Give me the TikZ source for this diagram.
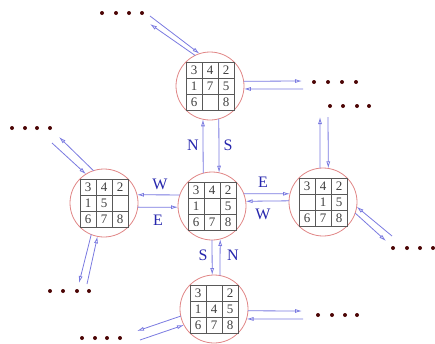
\documentclass[tikz,border=0pt]{standalone}
\usepackage{fontspec}
\setmainfont{Liberation Serif}
\usetikzlibrary{arrows.meta,calc}
\definecolor{circ}{rgb}{0.88,0.52,0.52}
\definecolor{arr}{rgb}{0.48,0.48,0.88}
\definecolor{lab}{rgb}{0.15,0.15,0.68}
\definecolor{dotc}{rgb}{0.30,0.02,0.02}
\tikzset{
  st/.style={circle,draw=circ,line width=0.8pt,minimum size=68pt,inner sep=0pt,outer sep=0pt},
  gl/.style={draw=black!65,line width=0.5pt},
  num/.style={font=\fontsize{13}{13}\selectfont,text=black!75,inner sep=0pt},
  mv/.style={draw=arr,line width=0.8pt,-{Latex[open,length=7pt,width=4pt]}},
  lb/.style={font=\fontsize{16}{16}\selectfont,text=lab,inner sep=0pt},
  dt/.style={fill=dotc}
}
\newcommand{\pz}[4]{%
  \node[st] (#1) at (#2,#3) {};
  \begin{scope}[shift={(#2,#3)}]
    \draw[gl] (-24,-24) rectangle (24,24) (-8,-24)--(-8,24) (8,-24)--(8,24) (-24,-8)--(24,-8) (-24,8)--(24,8);
    \foreach \t [count=\i from 0] in {#4} {
      \pgfmathsetmacro\cx{mod(\i,3)*16-16}
      \pgfmathsetmacro\cy{int(\i/3)*16-16}
      \node[num] at (\cx,\cy) {\t};
    }
  \end{scope}}
\newcommand{\dotrow}[5]{%
  \foreach \xx in {#1,#2,#3,#4} {\fill[dt] (\xx,#5) circle (2);}}
\begin{document}
\begin{tikzpicture}[x=1pt,y=-1pt]
\useasboundingbox (0,0) rectangle (435,343);
\pz{T}{210}{86}{3,4,2,1,7,5,6,,8}
\pz{L}{104}{203}{3,4,2,1,5,,6,7,8}
\pz{C}{212}{206}{3,4,2,1,,5,6,7,8}
\pz{R}{323}{202}{3,4,2,,1,5,6,7,8}
\pz{B}{214}{309}{3,,2,1,4,5,6,7,8}
% central moves
\draw[mv] (C.105) -- (T.258);
\draw[mv] (T.285) -- (C.78);
\draw[mv] (C.161) -- (L.14);
\draw[mv] (L.353) -- (C.182);
\draw[mv] (C.21) -- (R.166);
\draw[mv] (R.178) -- (C.8);
\draw[mv] (C.270) -- (B.93);
\draw[mv] (B.80) -- (C.284);
\node[lb] (nN1) at (193,145) {N};
\node[lb] (nS1) at (228,145) {S};
\node[lb] (nW1) at (160,184) {W};
\node[lb] (nE1) at (158,220) {E};
\node[lb] (nE2) at (263,182) {E};
\node[lb] (nW2) at (263,214) {W};
\node[lb] (nS2) at (203,255) {S};
\node[lb] (nN2) at (233,255) {N};
% free ends
\coordinate (a1) at (150,16);
\coordinate (a2) at (150,24);
\coordinate (b1) at (302,81);
\coordinate (b2) at (303,89);
\coordinate (c1) at (320,117);
\coordinate (c2) at (328,117);
\coordinate (d1) at (392,236);
\coordinate (d2) at (386,241);
\coordinate (e1) at (52,143);
\coordinate (e2) at (59,137);
\coordinate (f1) at (79,283);
\coordinate (f2) at (87,284);
\coordinate (g1) at (302,311);
\coordinate (g2) at (303,319);
\coordinate (h1) at (137,331);
\coordinate (h2) at (140,340);
% outer moves
\draw[mv] (a1) -- (T.108);
\draw[mv] (T.116) -- (a2);
\draw[mv] (T.8) -- (b1);
\draw[mv] (b2) -- (T.355);
\draw[mv] (R.95) -- (c1);
\draw[mv] (c2) -- (R.81);
\draw[mv] (d1) -- (R.352);
\draw[mv] (R.341) -- (d2);
\draw[mv] (e1) -- (L.122);
\draw[mv] (L.108) -- (e2);
\draw[mv] (L.248) -- (f1);
\draw[mv] (f2) -- (L.259);
\draw[mv] (B.357) -- (g1);
\draw[mv] (g2) -- (B.343);
\draw[mv] (B.192) -- (h1);
\draw[mv] (h2) -- (B.208);
% dots
\dotrow{102}{116}{129}{142}{13}
\dotrow{314}{328}{342}{356}{82}
\dotrow{330}{343}{357}{369}{106}
\dotrow{393}{407}{420}{433}{248}
\dotrow{12}{25}{37}{50}{128}
\dotrow{50}{63}{77}{89}{291}
\dotrow{318}{332}{345}{357}{315}
\dotrow{82}{95}{107}{120}{338}
\end{tikzpicture}
\end{document}
